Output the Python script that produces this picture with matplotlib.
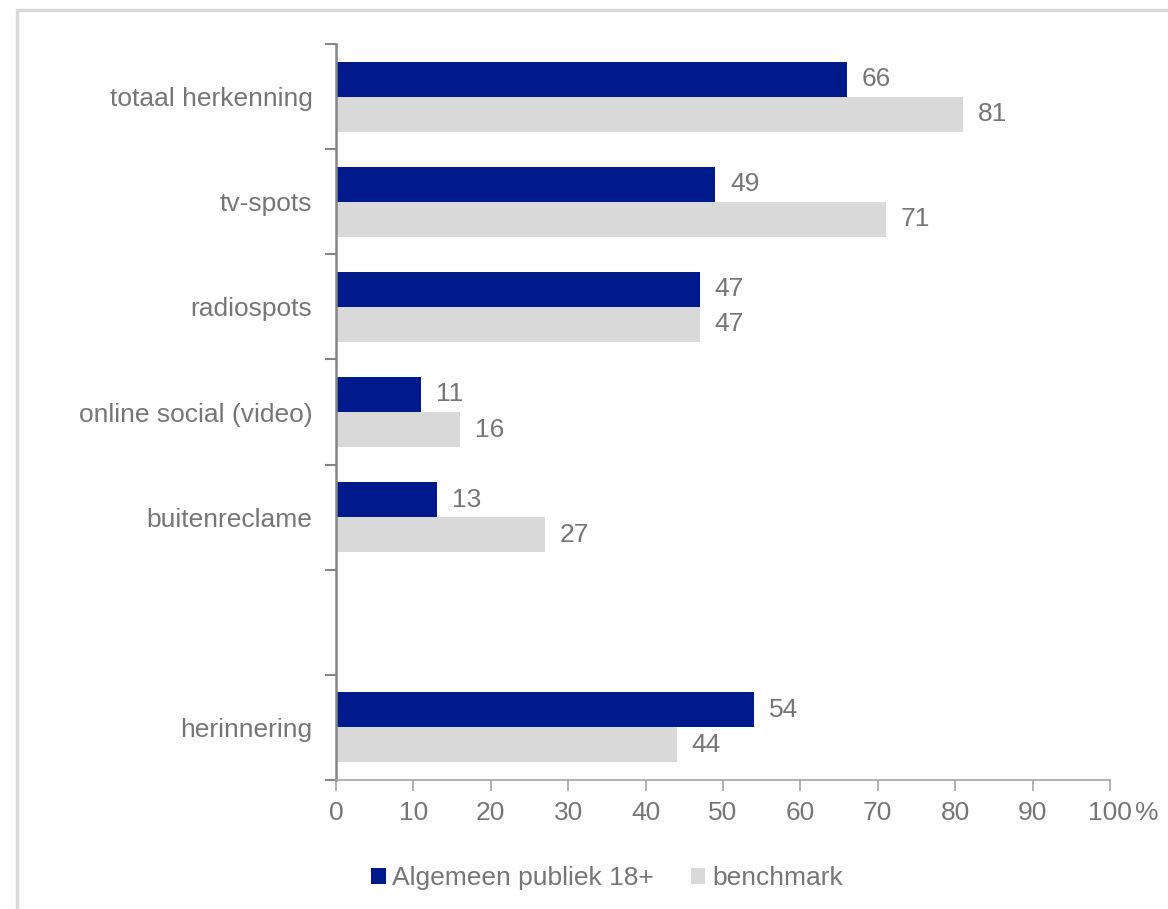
import matplotlib.pyplot as plt
from matplotlib.patches import Rectangle

plt.rcParams['font.family'] = ['Liberation Sans', 'DejaVu Sans']

# categories and the y slot each one sits in (slot 5 stays empty)
categories = ['totaal herkenning', 'tv-spots', 'radiospots',
              'online social (video)', 'buitenreclame', 'herinnering']
slots = [0, 1, 2, 3, 4, 6]
publiek = [66, 49, 47, 11, 13, 54]
benchmark = [81, 71, 47, 16, 27, 44]
series_names = ['Algemeen publiek 18+', 'benchmark']

blue = '#001A8C'
lightgray = '#D9D9D9'
textgray = '#767676'
axisgray = '#868686'
fs = 19

fig = plt.figure(figsize=(11.68, 9.09), dpi=100)
fig.patches.append(Rectangle((17 / 1168, -0.1), 1.2, 1.1 - 9.5 / 909,
                             transform=fig.transFigure, fill=False,
                             edgecolor='#D9D9D9', linewidth=2.5, zorder=0))

ax = fig.add_axes([336 / 1168, 1 - 780 / 909, (1110 - 336) / 1168, (780 - 44) / 909])

h = 1 / 3
b1 = ax.barh([s - h / 2 for s in slots], publiek, height=h, color=blue,
             label=series_names[0])
b2 = ax.barh([s + h / 2 for s in slots], benchmark, height=h, color=lightgray,
             label=series_names[1])

for bars, vals in ((b1, publiek), (b2, benchmark)):
    for bar, v in zip(bars, vals):
        ax.annotate(str(v), (v, bar.get_y() + bar.get_height() / 2),
                    xytext=(15, 0), textcoords='offset pixels',
                    ha='left', va='center', fontsize=fs, color=textgray)

ax.set_xlim(0, 100)
ax.set_ylim(6.5, -0.5)

ax.set_xticks(range(0, 101, 10))
ax.set_xticklabels([str(v) for v in range(0, 101, 10)])

ax.set_yticks([i - 0.5 for i in range(8)])
ax.set_yticklabels([])
ax.set_yticks(slots, minor=True)
ax.set_yticklabels(categories, minor=True)

ax.tick_params(axis='y', which='major', length=8, width=1.5, color=axisgray,
               direction='out')
ax.tick_params(axis='y', which='minor', length=0, pad=17, labelsize=fs,
               labelcolor=textgray)
ax.tick_params(axis='x', length=8, width=1.2, color='#A6A6A6', pad=7,
               labelsize=fs, labelcolor=textgray)

for side in ('top', 'right'):
    ax.spines[side].set_visible(False)
ax.spines['left'].set_color(axisgray)
ax.spines['left'].set_linewidth(1.8)
ax.spines['bottom'].set_color('#A6A6A6')
ax.spines['bottom'].set_linewidth(1.2)

# percent sign right after the last tick label
last = ax.get_xticklabels()[-1]
ax.annotate('%', (1, 0), xycoords=last, xytext=(3, 0),
            textcoords='offset pixels', ha='left', va='bottom',
            fontsize=fs, color=textgray)

fig.legend(handles=[b1, b2], loc='center', bbox_to_anchor=(607 / 1168, 1 - 878 / 909),
           ncol=2, frameon=False, fontsize=fs, labelcolor=textgray,
           handlelength=0.55, handleheight=0.55, handletextpad=0.25,
           columnspacing=1.4)

fig.savefig('out.png', dpi=100)
